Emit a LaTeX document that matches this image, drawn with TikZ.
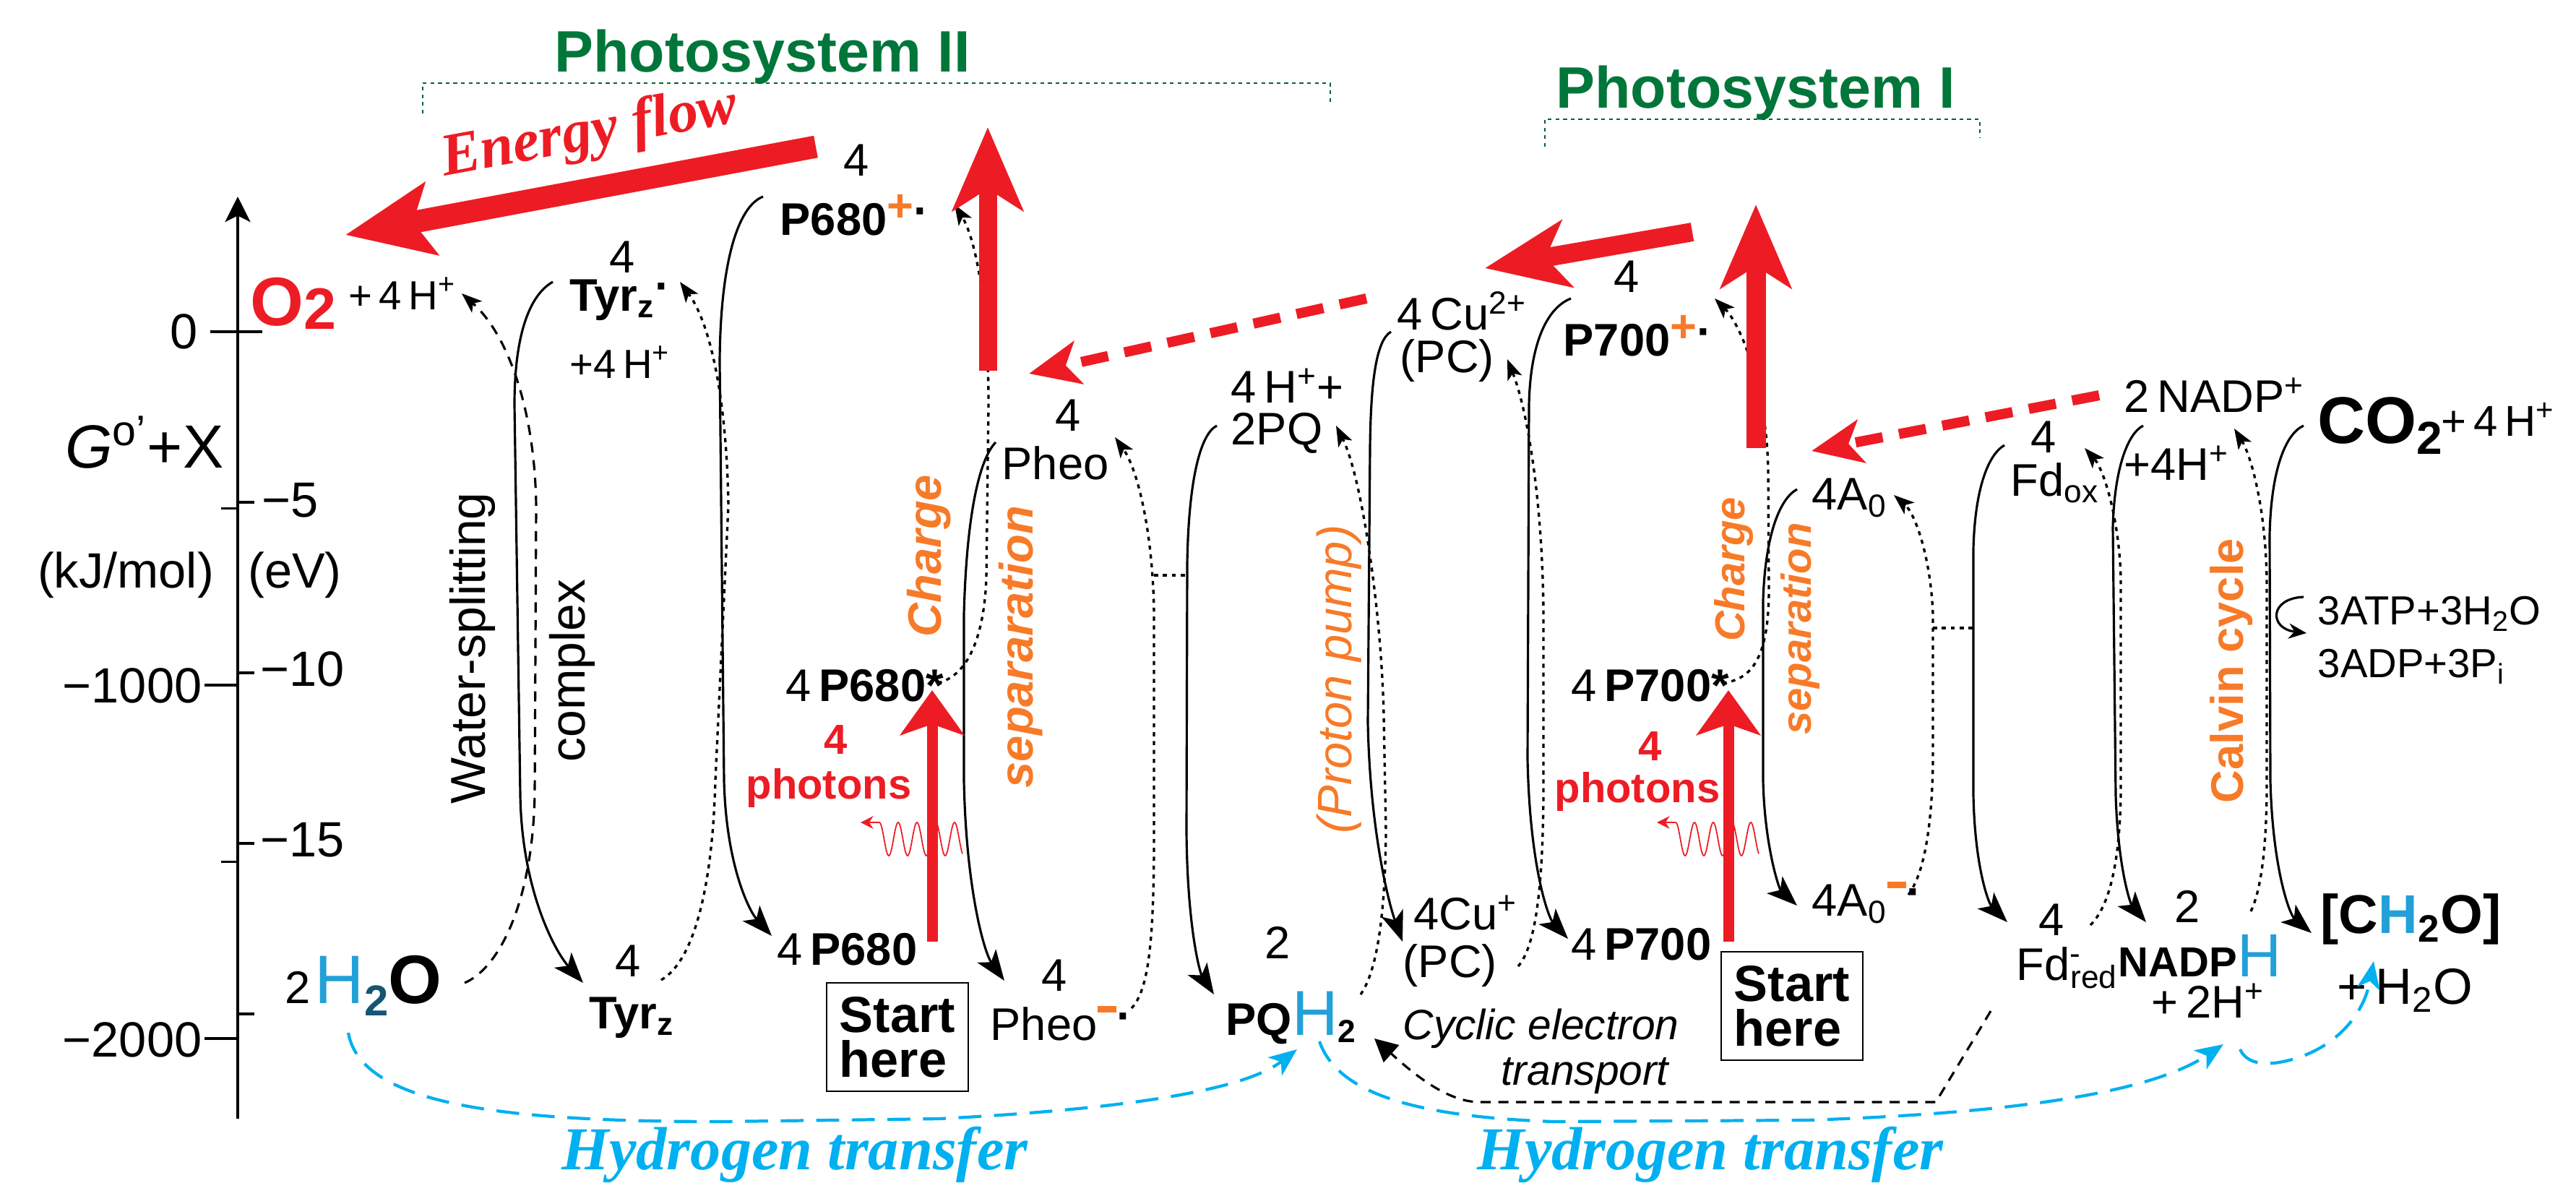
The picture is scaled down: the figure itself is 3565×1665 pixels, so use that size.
\documentclass[tikz,border=0pt]{standalone}
\usepackage{fontspec}
\setmainfont{Liberation Sans}
\newfontfamily\timesf{Liberation Serif}
\usetikzlibrary{arrows.meta}
\definecolor{psred}{RGB}{237,28,36}
\definecolor{psorange}{RGB}{247,122,40}
\definecolor{psgreen}{RGB}{0,118,58}
\definecolor{psblue}{RGB}{0,176,240}
\definecolor{hblue}{RGB}{35,160,215}
\definecolor{hdark}{RGB}{20,85,115}
\newcommand\myfs[1]{\fontsize{#1}{#1}\selectfont}
\newcommand\rdot{\raisebox{0.2em}{\bfseries ·}}
\newcommand\orm{\textcolor{psorange}{\rule[0.62em]{0.42em}{0.14em}}}
\newcommand\orp{\textcolor{psorange}{\raisebox{0.3em}{+}}}
\begin{document}
\begin{tikzpicture}[x=0.01cm,y=-0.01cm,
  lab/.style={inner sep=0pt,font=\myfs{18}},
  blab/.style={inner sep=0pt,font=\myfs{18}\bfseries},
  axlab/.style={inner sep=0pt,font=\myfs{19.5}},
  solidc/.style={line width=0.9pt,-{Stealth[length=12pt,width=9pt,inset=3pt]}},
  dotc/.style={line width=0.95pt,dash pattern=on 1.6pt off 1.9pt,-{Stealth[length=8pt,width=6pt,inset=2pt]}},
  dashc/.style={line width=0.9pt,dash pattern=on 4pt off 3pt,-{Stealth[length=8pt,width=6pt,inset=2pt]}},
  linkc/.style={line width=0.95pt,dash pattern=on 1.6pt off 1.9pt},
  bluec/.style={draw=psblue,line width=1.2pt,dash pattern=on 9pt off 5pt,-{Stealth[length=11pt,width=9pt,inset=3pt]}},
  bracket/.style={draw=psgreen!85!black,line width=0.7pt,dash pattern=on 1.5pt off 1.5pt},
  orlab/.style={inner sep=0pt,text=psorange,rotate=90},
  redlab/.style={inner sep=0pt,text=psred,font=\myfs{16.5}\bfseries},
  startbox/.style={draw,line width=0.6pt,minimum width=1.96cm,minimum height=1.5cm,align=left,font=\fontsize{20}{17.5}\selectfont\bfseries,inner sep=0pt},
  redbig/.style={draw=psred,-{Stealth[length=1.15cm,width=0.97cm,inset=0.3cm]}},
  reddash/.style={draw=psred,line width=0.14cm,dash pattern=on 0.38cm off 0.23cm,-{Stealth[length=0.7cm,width=0.6cm,inset=0.18cm]}},
  redphot/.style={draw=psred,line width=0.15cm,-{Stealth[length=0.62cm,width=0.88cm,inset=0.15cm]}},
  wave/.style={draw=psred,line width=0.5pt}
]
\useasboundingbox (0,0) rectangle (3565,1665);

% ---------- axis ----------
\coordinate (axb) at (329,1548);
\coordinate (axt) at (329,272);
\draw[line width=0.9pt,-{Stealth[length=10pt,width=10pt,inset=2.5pt]}] (axb) -- (axt);
\draw[line width=0.9pt] (291,459) -- (363,459);
\draw[line width=0.9pt] (306,703.5) -- (329,703.5);
\draw[line width=0.9pt] (283,948) -- (329,948);
\draw[line width=0.9pt] (306,1192.5) -- (329,1192.5);
\draw[line width=0.9pt] (283,1437) -- (329,1437);
\draw[line width=0.9pt] (329,695) -- (352,695);
\draw[line width=0.9pt] (329,931) -- (352,931);
\draw[line width=0.9pt] (329,1167) -- (352,1167);
\draw[line width=0.9pt] (329,1403) -- (352,1403);
\node[axlab,anchor=east] (l0) at (274,459) {0};
\node[axlab,anchor=east] (l1000) at (280,949) {−1000};
\node[axlab,anchor=east] (l2000) at (280,1439) {−2000};
\node[axlab,anchor=west] (e5) at (362,692) {−5};
\node[axlab,anchor=west] (e10) at (360,926) {−10};
\node[axlab,anchor=west] (e15) at (360,1162) {−15};
\node[axlab] (kj) at (174,796) {(kJ/mol)};
\node[axlab] (ev) at (408,796) {(eV)};
\node[inner sep=0pt,font=\myfs{24},anchor=east] (gx) at (310,612) {{\itshape G}\textsuperscript{o’}+X};

% ---------- titles ----------
\node[inner sep=0pt,anchor=base,text=psgreen,font=\myfs{23}\bfseries] (ps2) at (1055,99) {Photosystem II};
\node[inner sep=0pt,anchor=base,text=psgreen,font=\myfs{23}\bfseries] (ps1) at (2430,149) {Photosystem I};
\draw[bracket] (585,157) -- (585,115) -- (1841,115) -- (1841,142);
\draw[bracket] (2138,203) -- (2138,165) -- (2740,165) -- (2740,191);
\node[inner sep=0pt,text=psred,font=\timesf\bfseries\itshape\myfs{23.5},rotate=10.5] (ef) at (816,186) {Energy flow};

% ---------- species ----------
\node[inner sep=0pt,anchor=west,text=psred,font=\myfs{27}\bfseries] (o2) at (346,420) {O\raisebox{-0.05em}{\myfs{23}2}};
\node[lab,anchor=west,font=\myfs{16}] (o2h) at (482,406) {+\,4\,H\textsuperscript{+}};
\node[inner sep=0pt,anchor=west] (h2o) at (394,1364) {{\myfs{18}2}\,{\myfs{27}\color{hblue}H}\raisebox{-5pt}{\myfs{17}\bfseries\color{hdark}2}{\myfs{27}\bfseries O}};
\node[lab] (tyrs4) at (861,356) {4};
\node[blab,anchor=west] (tyrs) at (788,415) {Tyr\textsubscript{z}\rdot};
\node[lab,anchor=west,font=\myfs{16}] (tyrsh) at (788,501) {+4\,H\textsuperscript{+}};
\node[lab] (tyr4) at (869,1330) {4};
\node[blab,anchor=west] (tyr) at (815,1408) {Tyr\textsubscript{z}};
\node[lab] (p680p4) at (1185,222) {4};
\node[blab,anchor=west] (p680p) at (1079,298) {P680\orp\rdot};
\node[lab,anchor=west] (p680s) at (1087,949) {4\,\textbf{P680*}};
\node[lab,anchor=west] (p680) at (1075,1314) {4\,\textbf{P680}};
\node[redlab] (ph1n) at (1157,1024) {4};
\node[redlab] (ph1) at (1147,1090) {photons};
\node[startbox] (start1) at (1242,1435) {Start\\here};
\node[lab] (pheo4) at (1478,575) {4};
\node[lab,anchor=west] (pheo) at (1386,641) {Pheo};
\node[lab] (pheom4) at (1459,1350) {4};
\node[lab,anchor=west] (pheom) at (1370,1416) {Pheo\orm\rdot};
\node[lab,anchor=west] (pq4h) at (1703,534) {4\,H\textsuperscript{+}+};
\node[lab,anchor=west] (pq) at (1703,599) {2PQ};
\node[lab] (pqh2n) at (1768,1304) {2};
\node[lab,anchor=west] (pqh2) at (1696,1408) {\textbf{PQ}{\myfs{25}\color{hblue}H}\textsubscript{\bfseries 2}};
\node[lab,anchor=west] (cu2) at (1933,430) {4\,Cu\textsuperscript{2+}};
\node[lab,anchor=west] (pc1) at (1937,499) {(PC)};
\node[lab,anchor=west] (cu1) at (1956,1263) {4Cu\textsuperscript{+}};
\node[lab,anchor=west] (pc2) at (1941,1336) {(PC)};
\node[lab] (p700p4) at (2251,383) {4};
\node[blab,anchor=west] (p700p) at (2163,465) {P700\orp\rdot};
\node[lab,anchor=west] (p700s) at (2174,949) {4\,\textbf{P700*}};
\node[lab,anchor=west] (p700) at (2174,1307) {4\,\textbf{P700}};
\node[inner sep=0pt,font=\myfs{16.7}\itshape,anchor=west] (cyc1) at (1941,1423) {Cyclic electron};
\node[inner sep=0pt,font=\myfs{16.7}\itshape,anchor=east] (cyc2) at (2310,1489) {transport};
\node[redlab] (ph2n) at (2284,1033) {4};
\node[redlab] (ph2) at (2266,1095) {photons};
\node[startbox] (start2) at (2480,1392) {Start\\here};
\node[lab,anchor=west] (a0) at (2507,689) {4A\textsubscript{0}};
\node[lab,anchor=west] (a0m) at (2507,1249) {4A\textsubscript{0}\orm\rdot};
\node[lab] (fdox4) at (2828,605) {4};
\node[lab,anchor=west] (fdox) at (2782,668) {Fd\textsubscript{ox}};
\node[lab] (fdred4) at (2839,1273) {4};
\node[lab,anchor=west] (fdred) at (2790,1339) {Fd\textsuperscript{-}\kern-0.25em\textsubscript{red}};
\node[lab,anchor=west] (nadpp) at (2939,547) {2\,NADP\textsuperscript{+}};
\node[lab,anchor=west] (nadph4) at (2939,641) {+4H\textsuperscript{+}};
\node[inner sep=0pt,anchor=west,font=\myfs{26}\bfseries] (co2) at (3207,589) {CO\textsubscript{2}};
\node[lab,anchor=west,font=\myfs{17}] (co2h) at (3378,580) {+\,4\,H\textsuperscript{+}};
\node[lab] (nadph2) at (3027,1254) {2};
\node[inner sep=0pt,anchor=west] (nadph) at (2931,1322) {{\myfs{16.5}\bfseries NADP}{\myfs{24}\color{hblue}H}};
\node[lab,anchor=west] (nadph2h) at (2977,1385) {+\,2H\textsuperscript{+}};
\node[inner sep=0pt,anchor=west,font=\myfs{21.5}\bfseries] (ch2o) at (3211,1272) {[C{\color{hblue}H}\textsubscript{2}O]};
\node[inner sep=0pt,anchor=west,font=\myfs{20}] (ch2oh) at (3234,1370) {+\,H\textsubscript{2}O};
\node[lab,anchor=west,font=\myfs{16}] (atp) at (3207,849) {3ATP+3H\textsubscript{2}O};
\node[lab,anchor=west,font=\myfs{16}] (adp) at (3207,922) {3ADP+3P\textsubscript{i}};

% ---------- rotated labels ----------
\node[inner sep=0pt,rotate=90,font=\myfs{19.3}] (ws) at (654,897) {Water-splitting};
\node[inner sep=0pt,rotate=90,font=\myfs{19.3}] (wsc) at (792,928) {complex};
\node[orlab,font=\myfs{18.5}\bfseries\itshape] (cs1a) at (1286,769) {Charge};
\node[orlab,font=\myfs{18.5}\bfseries\itshape] (cs1b) at (1413,895) {separaration};
\node[orlab,font=\myfs{19}\itshape] (pp) at (1853,940) {(Proton pump)};
\node[orlab,font=\myfs{16.5}\bfseries\itshape] (cs2a) at (2399,788) {Charge};
\node[orlab,font=\myfs{16.5}\bfseries\itshape] (cs2b) at (2491,870) {separation};
\node[orlab,font=\myfs{18}\bfseries] (calvin) at (3088,928) {Calvin cycle};
\node[inner sep=0pt,text=psblue,font=\timesf\bfseries\itshape\myfs{24}] (ht1) at (1100,1598) {Hydrogen transfer};
\node[inner sep=0pt,text=psblue,font=\timesf\bfseries\itshape\myfs{24}] (ht2) at (2367,1598) {Hydrogen transfer};

% ---------- connector end points ----------
\coordinate (c1s) at (765,390);   \coordinate (c1e) at (807,1360);
\coordinate (c2s) at (1056,272);  \coordinate (c2e) at (1068,1295);
\coordinate (c3s) at (1378,612);  \coordinate (c3e) at (1390,1357);
\coordinate (c4s) at (1684,589);  \coordinate (c4e) at (1680,1376);
\coordinate (c5s) at (1925,459);  \coordinate (c5e) at (1941,1303);
\coordinate (c6s) at (2174,413);  \coordinate (c6e) at (2170,1299);
\coordinate (c7s) at (2487,677);  \coordinate (c7e) at (2487,1253);
\coordinate (c8s) at (2774,616);  \coordinate (c8e) at (2778,1276);
\coordinate (c9s) at (2966,589);  \coordinate (c9e) at (2970,1276);
\coordinate (c10s) at (3188,589); \coordinate (c10e) at (3199,1291);
\coordinate (d1s) at (643,1360);  \coordinate (d1e) at (639,406);
\coordinate (d2s) at (915,1356);  \coordinate (d2e) at (941,390);
\coordinate (d3s) at (1298,945);  \coordinate (d3e) at (1321,283);
\coordinate (d4s) at (1566,1395); \coordinate (d4e) at (1543,605);
\coordinate (d5s) at (1883,1376); \coordinate (d5e) at (1849,589);
\coordinate (d6s) at (2101,1337); \coordinate (d6e) at (2086,497);
\coordinate (d7s) at (2384,945);  \coordinate (d7e) at (2373,413);
\coordinate (d8s) at (2641,1238); \coordinate (d8e) at (2621,685);
\coordinate (d9s) at (2893,1280); \coordinate (d9e) at (2885,620);
\coordinate (d10s) at (3115,1261);\coordinate (d10e) at (3092,593);
\coordinate (l1s) at (1597,796);  \coordinate (l1e) at (1642,796);
\coordinate (l2s) at (2675,869);  \coordinate (l2e) at (2731,869);
\coordinate (cys) at (2755,1399); \coordinate (cye) at (1902,1437);
\coordinate (cas) at (3188,826);  \coordinate (cae) at (3192,876);
\coordinate (h1s) at (482,1429);  \coordinate (h1e) at (1795,1452);
\coordinate (h2s) at (1826,1441); \coordinate (h2e) at (3077,1445);
\coordinate (h3s) at (3100,1452); \coordinate (h3e) at (3285,1330);

% ---------- solid curves (downward) ----------
\draw[solidc] (c1s) .. controls (730,410) and (712,470) .. (712,560) -- (720,1100) .. controls (722,1230) and (767,1315) .. (c1e);
\draw[solidc] (c2s) .. controls (1022,285) and (997,360) .. (996,500) -- (1002,1080) .. controls (1005,1200) and (1038,1262) .. (c2e);
\draw[solidc] (c3s) .. controls (1358,632) and (1338,700) .. (1334,850) -- (1334,1080) .. controls (1337,1230) and (1362,1318) .. (c3e);
\draw[solidc] (c4s) .. controls (1662,600) and (1645,660) .. (1643,780) -- (1642,1150) .. controls (1643,1280) and (1660,1345) .. (c4e);
\draw[solidc] (c5s) .. controls (1906,470) and (1897,520) .. (1896,620) -- (1893,1000) .. controls (1896,1150) and (1922,1250) .. (c5e);
\draw[solidc] (c6s) .. controls (2143,425) and (2118,470) .. (2116,560) -- (2114,1050) .. controls (2117,1200) and (2143,1270) .. (c6e);
\draw[solidc] (c7s) .. controls (2463,690) and (2443,740) .. (2440,830) -- (2440,1080) .. controls (2442,1170) and (2462,1230) .. (c7e);
\draw[solidc] (c8s) .. controls (2750,630) and (2733,680) .. (2731,760) -- (2731,1100) .. controls (2733,1200) and (2752,1250) .. (c8e);
\draw[solidc] (c9s) .. controls (2944,600) and (2926,650) .. (2924,730) -- (2928,1100) .. controls (2931,1200) and (2948,1250) .. (c9e);
\draw[solidc] (c10s) .. controls (3163,600) and (3143,650) .. (3141,740) -- (3142,1080) .. controls (3145,1200) and (3168,1265) .. (c10e);

% ---------- dotted curves (upward) ----------
\draw[dashc] (d1s) .. controls (690,1340) and (737,1250) .. (740,1100) -- (742,700) .. controls (740,560) and (700,460) .. (d1e);
\draw[dotc] (d2s) .. controls (960,1330) and (986,1230) .. (990,1080) -- (1008,700) .. controls (1006,560) and (985,450) .. (d2e);
\draw[dotc] (d3s) .. controls (1340,935) and (1362,880) .. (1365,800) -- (1368,560) .. controls (1368,420) and (1350,330) .. (d3e);
\draw[dotc] (d4s) .. controls (1590,1370) and (1596,1300) .. (1597,1180) -- (1597,850) .. controls (1596,740) and (1575,650) .. (d4e);
\draw[dotc] (d5s) .. controls (1905,1345) and (1917,1270) .. (1918,1150) -- (1915,990) .. controls (1912,850) and (1885,660) .. (d5e);
\draw[dotc] (d6s) .. controls (2125,1310) and (2135,1230) .. (2136,1100) -- (2136,850) .. controls (2135,700) and (2115,570) .. (d6e);
\draw[dotc] (d7s) .. controls (2430,940) and (2447,900) .. (2448,820) -- (2447,650) .. controls (2445,540) and (2410,450) .. (d7e);
\draw[dotc] (d8s) .. controls (2662,1210) and (2673,1150) .. (2675,1060) -- (2675,850) .. controls (2672,770) and (2650,710) .. (d8e);
\draw[dotc] (d9s) .. controls (2918,1255) and (2933,1200) .. (2935,1100) -- (2935,800) .. controls (2933,720) and (2912,650) .. (d9e);
\draw[dotc] (d10s) .. controls (3130,1230) and (3136,1170) .. (3137,1100) -- (3137,800) .. controls (3135,700) and (3115,630) .. (d10e);
\draw[linkc] (l1s) -- (l1e);
\draw[linkc] (l2s) -- (l2e);

% cyclic electron transport
\draw[line width=0.9pt,dash pattern=on 4pt off 3pt,-{Triangle[length=9pt,width=9pt]}] (cys) -- (2679,1525) -- (2048,1525) .. controls (2000,1525) and (1950,1480) .. (cye);
% Calvin ATP arrow
\draw[line width=0.9pt,-{Stealth[length=7pt,width=6pt]}] (cas) .. controls (3140,828) and (3140,870) .. (cae);

% ---------- hydrogen transfer ----------
\draw[bluec] (h1s) .. controls (500,1530) and (700,1552) .. (1000,1552) -- (1300,1548) .. controls (1550,1535) and (1720,1510) .. (h1e);
\draw[bluec] (h2s) .. controls (1850,1510) and (1950,1545) .. (2150,1552) -- (2500,1550) .. controls (2800,1540) and (2980,1510) .. (h2e);
\draw[bluec] (h3s) .. controls (3112,1478) and (3150,1475) .. (3190,1460) .. controls (3240,1440) and (3272,1400) .. (h3e);

% ---------- red arrows ----------
\coordinate (eft) at (1129,203);  \coordinate (efh) at (478,325);
\coordinate (r2t) at (1367,513);  \coordinate (r2h) at (1367,176);
\coordinate (r1t) at (2430,620);  \coordinate (r1h) at (2430,283);
\coordinate (r3t) at (2342,321);  \coordinate (r3h) at (2055,371);
\coordinate (rd1t) at (1891,413); \coordinate (rd1h) at (1424,517);
\coordinate (rd2t) at (2905,547); \coordinate (rd2h) at (2507,624);
\coordinate (pa1t) at (1290,1303);\coordinate (pa1h) at (1290,955);
\coordinate (pa2t) at (2392,1303);\coordinate (pa2h) at (2392,955);
\draw[draw=psred,line width=0.31cm,-{Stealth[length=1.2cm,width=1.0cm,inset=0.25cm]}] (eft) -- (efh);
\draw[redbig,line width=0.25cm] (r2t) -- (r2h);
\draw[redbig,line width=0.27cm] (r1t) -- (r1h);
\draw[draw=psred,line width=0.26cm,-{Stealth[length=1.15cm,width=0.93cm,inset=0.3cm]}] (r3t) -- (r3h);
\draw[reddash] (rd1t) -- (rd1h);
\draw[reddash] (rd2t) -- (rd2h);
\draw[redphot] (pa1t) -- (pa1h);
\draw[redphot] (pa2t) -- (pa2h);

% photon waves
\draw[wave,domain=0:115,samples=160,smooth] plot ({1217+\x},{1161-23*cos(13.846*\x)});
\coordinate (w1a) at (1217,1138); \coordinate (w1b) at (1191,1138);
\draw[wave,-{Stealth[length=5pt,width=5pt]}] (w1a) -- (w1b);
\draw[wave,domain=0:115,samples=160,smooth] plot ({2319+\x},{1161-23*cos(13.846*\x)});
\coordinate (w2a) at (2319,1138); \coordinate (w2b) at (2293,1138);
\draw[wave,-{Stealth[length=5pt,width=5pt]}] (w2a) -- (w2b);
\end{tikzpicture}
\end{document}
